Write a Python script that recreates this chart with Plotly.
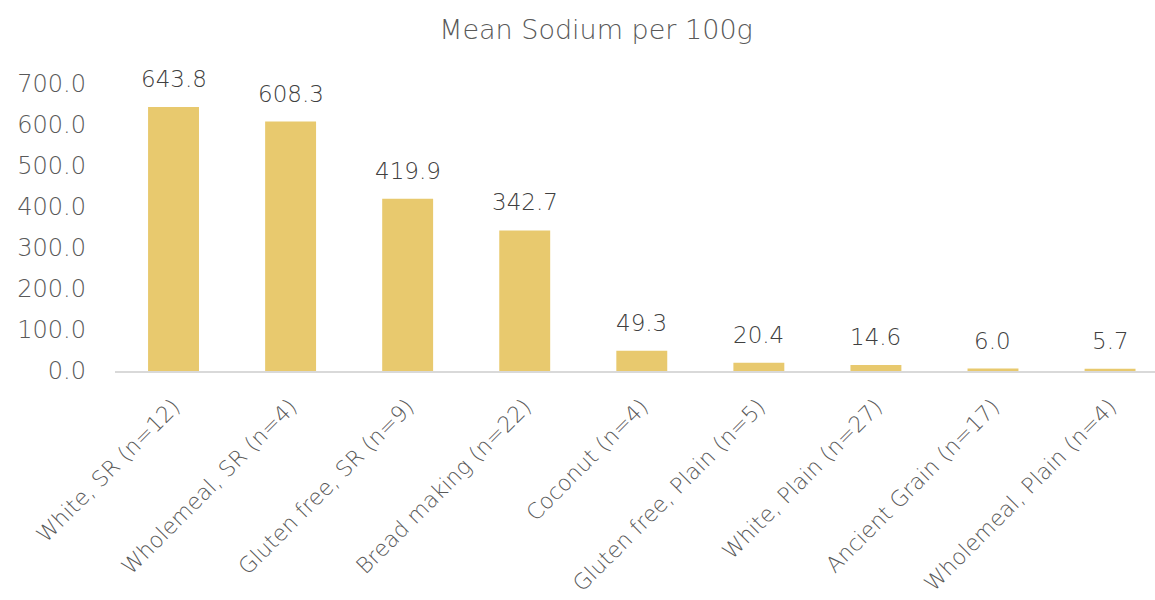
import plotly.graph_objects as go

categories = [
    "White, SR (n=12)",
    "Wholemeal, SR (n=4)",
    "Gluten free, SR (n=9)",
    "Bread making (n=22)",
    "Coconut (n=4)",
    "Gluten free, Plain (n=5)",
    "White, Plain (n=27)",
    "Ancient Grain (n=17)",
    "Wholemeal, Plain (n=4)",
]
sodium = [643.8, 608.3, 419.9, 342.7, 49.3, 20.4, 14.6, 6.0, 5.7]
y_ticks = [0, 100, 200, 300, 400, 500, 600, 700]

FONT = "DejaVu Sans"
BAR = "#E8C96E"
GREY = "#595959"

fig = go.Figure()
fig.add_trace(go.Bar(
    x=categories,
    y=sodium,
    marker=dict(color=BAR, line=dict(width=0)),
    hoverinfo="skip",
))

for c, v in zip(categories, sodium):
    fig.add_annotation(
        x=c, y=v, text=f"{v:.1f}", showarrow=False,
        yanchor="bottom", yshift=13,
        font=dict(family=FONT, size=23, color="#404040", weight=300),
    )

fig.update_layout(
    width=1155, height=600,
    margin=dict(l=115, r=0, t=84, b=229, pad=0),
    paper_bgcolor="white", plot_bgcolor="white",
    bargap=0.565,
    showlegend=False,
    title=dict(
        text="Mean Sodium per 100g",
        x=0.516, xanchor="center", xref="container",
        y=0.95, yanchor="middle", yref="container",
        font=dict(family=FONT, size=27, color=GREY, weight=300),
    ),
    xaxis=dict(
        type="category",
        range=[-0.5, 8.384],
        tickangle=-45,
        showline=True, linecolor="#D9D9D9", linewidth=2,
        showgrid=False, ticks="",
        ticklabelstandoff=12,
        tickfont=dict(family=FONT, size=22, color=GREY, weight=300),
    ),
    yaxis=dict(
        range=[0, 700],
        tickvals=y_ticks,
        tickformat=".1f",
        showgrid=False, zeroline=False, showline=False, ticks="",
        ticklabelstandoff=28,
        tickfont=dict(family=FONT, size=24, color=GREY, weight=300),
    ),
)

fig.write_html("out.html")
